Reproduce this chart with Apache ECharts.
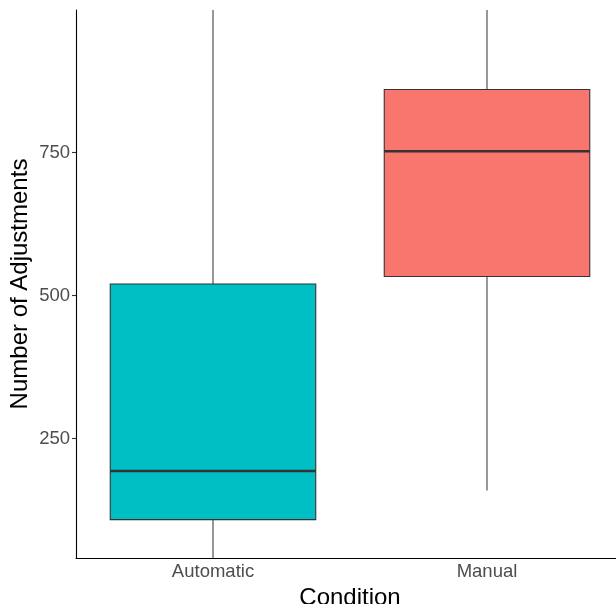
<!DOCTYPE html>
<html>
<head>
<meta charset="utf-8">
<script src="https://cdn.jsdelivr.net/npm/echarts@6/dist/echarts.min.js"></script>
<style>html,body{margin:0;padding:0;background:#fff;}#c{width:616px;height:604px;}</style>
</head>
<body>
<div id="c"></div>
<script>
const categories = ['Automatic', 'Manual'];
const whiskerLow = [41, 159];
const q1 = [108, 533];
const median = [193, 752];
const q3 = [520, 860];
const whiskerHigh = [999, 999];
const fills = ['#00BFC4', '#F8766D'];
const yTicks = [250, 500, 750];

const data = categories.map((c, i) => [i, whiskerLow[i], q1[i], median[i], q3[i], whiskerHigh[i]]);
const FONT = '"Liberation Sans", Arial, sans-serif';

const chart = echarts.init(document.getElementById('c'), null, {renderer: 'canvas'});
chart.setOption({
  animation: false,
  backgroundColor: '#fff',
  grid: {left: 76, top: 10, bottom: 46, right: -8, containLabel: false, outerBoundsMode: 'none'},
  xAxis: {
    type: 'category',
    data: categories,
    boundaryGap: true,
    name: 'Condition',
    nameLocation: 'middle',
    nameMoveOverlap: false,
    nameGap: 28,
    nameTextStyle: {color: '#000', fontSize: 24, fontFamily: FONT},
    axisLine: {lineStyle: {color: '#000', width: 1.1}},
    axisTick: {alignWithLabel: true, length: 4, lineStyle: {color: '#333', width: 1.1}},
    axisLabel: {color: '#4D4D4D', fontSize: 18.5, fontFamily: FONT, margin: 4},
    splitLine: {show: false}
  },
  yAxis: {
    type: 'value',
    min: 41,
    max: 999,
    name: 'Number of Adjustments',
    nameLocation: 'middle',
    nameMoveOverlap: false,
    nameGap: 44,
    nameTextStyle: {color: '#000', fontSize: 24, fontFamily: FONT},
    axisLine: {show: true, lineStyle: {color: '#000', width: 1.1}},
    axisTick: {show: true, length: 4, customValues: yTicks, lineStyle: {color: '#333', width: 1.1}},
    axisLabel: {color: '#4D4D4D', fontSize: 18.5, fontFamily: FONT, margin: 6, customValues: yTicks},
    splitLine: {show: false}
  },
  series: [{
    type: 'custom',
    data: data,
    encode: {x: 0, y: [1, 2, 3, 4, 5]},
    renderItem: function (params, api) {
      const idx = api.value(0);
      const band = api.size([1, 0])[0];
      const half = band * 0.375;
      const pLow = api.coord([idx, api.value(1)]);
      const pQ1 = api.coord([idx, api.value(2)]);
      const pMed = api.coord([idx, api.value(3)]);
      const pQ3 = api.coord([idx, api.value(4)]);
      const pHigh = api.coord([idx, api.value(5)]);
      const x = pMed[0];
      const stroke = '#333333';
      return {
        type: 'group',
        children: [
          {type: 'line', shape: {x1: x, y1: pHigh[1], x2: x, y2: pQ3[1]}, style: {stroke: stroke, lineWidth: 1}},
          {type: 'line', shape: {x1: x, y1: pQ1[1], x2: x, y2: pLow[1]}, style: {stroke: stroke, lineWidth: 1}},
          {type: 'rect', shape: {x: x - half, y: pQ3[1], width: 2 * half, height: pQ1[1] - pQ3[1]},
            style: {fill: fills[params.dataIndex], stroke: stroke, lineWidth: 1.1}},
          {type: 'line', shape: {x1: x - half, y1: pMed[1], x2: x + half, y2: pMed[1]}, style: {stroke: stroke, lineWidth: 2.6}}
        ]
      };
    }
  }]
});
</script>
</body>
</html>
